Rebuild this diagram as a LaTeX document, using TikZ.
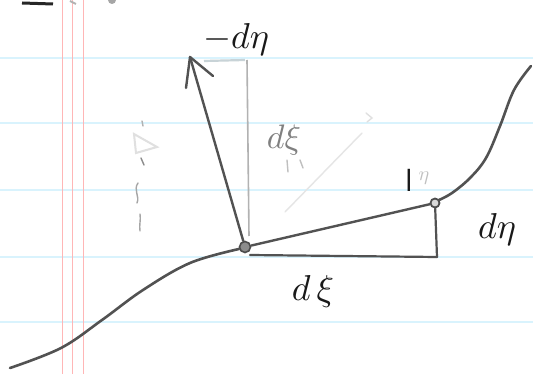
\documentclass[tikz,border=0pt]{standalone}
\usepackage{graphicx}
\usepackage{tikz}
\newcommand{\hwtext}[2]{\scalebox{#1}{#2}}
\begin{document}
\begin{tikzpicture}[x=1pt,y=-1pt,
  ink/.style={draw=black!68,line width=2.6pt,line cap=round,line join=round},
  faint/.style={draw=black!18,line width=1.4pt,line cap=round},
  hand/.style={text=black!90,inner sep=0pt},
  grayhand/.style={text=black!50,inner sep=0pt},
  ptdot/.style={circle,draw=black!70,fill=black!45,line width=1.6pt,minimum size=11pt,inner sep=0pt},
  ptring/.style={circle,draw=black!70,fill=black!15,line width=1.8pt,minimum size=9pt,inner sep=0pt}]
\useasboundingbox (0,0) rectangle (533,374);
\fill[white] (0,0) rectangle (533,374);
% lined paper
\foreach \yy in {58,123,190,257,322}
  \draw[cyan!15,line width=1.2pt] (0,\yy) -- (533,\yy);
\foreach \xx in {62,72,83}
  \draw[red!30!pink!60,line width=1pt] (\xx,0) -- (\xx,374);
% top-left cut-off writing
\draw[black!85,line width=3pt] (22,3) -- (53,4);
\draw[black!30,line width=2pt] (70,1) -- (76,4);
\fill[black!35] (112,0) circle (4pt);
% points
\node[ptdot] (P) at (245,247) {};
\node[ptring] (Q) at (435,203) {};
\coordinate (C) at (437,257);
\coordinate (B) at (250,255);
\coordinate (T) at (190,57);
% curve
\draw[ink] plot[smooth,tension=0.6] coordinates {(10,368) (61,348) (102,320) (143,290) (190,263) (239,249)};
\draw[ink] plot[smooth,tension=0.6] coordinates {(439,200) (452,193) (470,178) (486,158) (500,126) (514,90) (531,66)};
% triangle
\draw[ink,line width=2.4pt] (P) -- (Q);
\draw[ink,line width=2.2pt] (Q) -- (C);
\draw[ink,line width=2.2pt] (B) -- (C);
% normal arrow
\draw[ink,line width=2.4pt] (P) -- (T);
\draw[ink,line width=2.4pt] (186,88) -- (T) -- (213,76);
% faint helpers
\draw[black!30,line width=1.6pt] (247,60) -- (249,236);
\draw[cyan!30!black!25,line width=2.2pt] (204,61) -- (245,60);
\draw[faint,black!10] (285,212) -- (362,133);
\draw[faint,black!12] (366,113) -- (372,118) -- (367,122);
\draw[faint,black!25] (287,160) -- (288,172);
\draw[faint,black!25] (300,160) -- (303,168);
\draw[faint,black!12,line width=2pt] (134,134) -- (157,147) -- (136,153) -- cycle;
\draw[faint,black!30] (142,121) -- (143,126);
\draw[faint,black!45] (141,158) -- (144,165);
\draw[faint,black!35] (138,183) .. controls (133,190) and (140,196) .. (137,203);
\draw[faint,black!35] (140,214) .. controls (141,220) and (139,225) .. (140,231);
% labels
\node[hand] (lmdeta) at (236,40) {\hwtext{3.6}{$-d\eta$}};
\node[grayhand] (ldxi1) at (284,140) {\hwtext{3.4}{$d\xi$}};
\node[hand] (ldeta) at (497,230) {\hwtext{3.6}{$d\eta$}};
\node[hand] (ldxi2) at (313,292) {\hwtext{3.6}{$d\,\xi$}};
\node[hand] (lone) at (409,180) {\hwtext{3.2}{$\mathsf{l}$}};
\node[grayhand,text=black!25] (leta) at (424,178) {\hwtext{2}{$\eta$}};
\end{tikzpicture}
\end{document}
